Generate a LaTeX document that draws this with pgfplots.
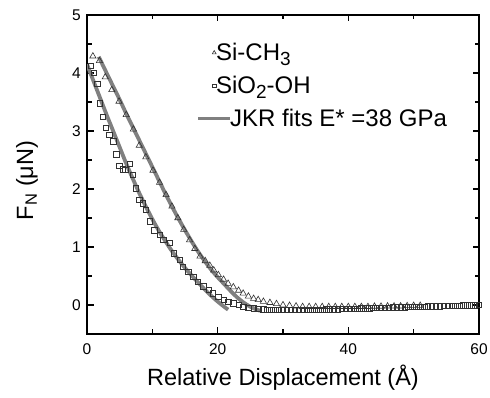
\documentclass[border=0pt]{standalone}
\usepackage{fontspec}
\setmainfont{Liberation Sans}
\usepackage{pgfplots}
\pgfplotsset{compat=1.18}
\definecolor{fitgray}{RGB}{128,128,128}
\definecolor{mk}{RGB}{50,50,50}
\newcommand\lsub[1]{\raisebox{-0.35ex}{\fontsize{19}{19}\selectfont #1}}
\newcommand\tlfont{\fontsize{15.5}{18}\selectfont}
\pgfplotsset{
 markleg/.style={legend image code/.code={\path (0pt,0pt) (32pt,0pt); \draw[##1, mark size=#1] plot coordinates {(16pt,0pt)};}},
 lineleg/.style={legend image code/.code={\draw[##1] (0pt,0pt) -- (32pt,0pt);}},
}
\begin{document}
\begin{tikzpicture}
\begin{axis}[name=ax, scale only axis, width=392pt, height=319pt,
 xmin=0, xmax=60, ymin=-0.5, ymax=5,
 xtick={0,20,40,60}, minor xtick={10,30,50},
 ytick={0,1,2,3,4,5}, minor ytick={-0.5,0.5,1.5,2.5,3.5,4.5},
 tick align=inside, major tick length=6.5pt, minor tick length=4.5pt,
 axis line style={line width=1.5pt},
 tick style={line width=1.2pt, black},
 /pgf/number format/assume math mode=true,
 xticklabel={\tlfont\pgfmathprintnumber{\tick}},
 yticklabel={\tlfont\pgfmathprintnumber{\tick}},
 xticklabel style={inner sep=0pt, anchor=north, yshift=-9pt},
 yticklabel style={inner sep=0pt, anchor=east, xshift=-6pt},
 xlabel={Relative Displacement (Å)},
 ylabel={F\textsubscript{N} (μN)},
 label style={font=\fontsize{23.5}{28}\selectfont},
 xlabel style={at={(axis description cs:0.5,0)}, anchor=center, yshift=-44pt},
 ylabel style={at={(axis description cs:0,0.5)}, anchor=center, yshift=60pt, xshift=-6pt},
 legend style={at={(axis cs:16.7,4.55)}, anchor=north west, draw=none, fill=none,
   font=\fontsize{24}{28}\selectfont, row sep=10pt, inner sep=0pt},
 legend cell align=left,
]
\addplot[only marks, mark=triangle, mark size=3.6pt, mark options={draw=mk, line width=0.6pt, fill=none}, markleg=2.2pt]
 coordinates {
(0.9,4.29) (1.9,4.21) (2.8,3.93) (3.8,3.71) (4.9,3.51) (6.0,3.28) (7.1,3.03) (8.0,2.75)
(9.0,2.55) (10.1,2.32) (11.1,2.11) (12.1,1.90) (13.0,1.70) (13.9,1.50) (14.8,1.30)
(15.7,1.12) (16.5,0.97) (17.3,0.84) (18.1,0.76) (18.8,0.68) (19.4,0.60) (20.1,0.52)
(20.9,0.44) (21.6,0.37) (22.4,0.31) (23.2,0.25) (23.9,0.20) (24.7,0.15) (25.5,0.11)
(26.2,0.09) (27.0,0.06) (28.0,0.04) (29.0,0.02) (30.0,0.0) (31.0,-0.01) (32.0,-0.02)
(33.0,-0.03) (34.0,-0.03) (35.0,-0.03) (36.0,-0.03) (37.0,-0.03) (38.0,-0.03) (39.0,-0.03)
(40.0,-0.03) (41.0,-0.03) (42.0,-0.03) (43.0,-0.03) (44.0,-0.025) (45.0,-0.025) (46.0,-0.02)
(47.0,-0.02) (48.0,-0.02) (49.0,-0.015) (50.0,-0.01) (51.0,-0.01)
};
\addlegendentry{\hspace*{-18pt}Si-CH\lsub{3}}
\addplot[only marks, mark=square, mark size=2.7pt, mark options={draw=mk, line width=0.6pt, fill=none}, markleg=1.8pt]
 coordinates {
(0.56,4.12) (1.07,4.00) (1.58,3.81) (1.99,3.48) (2.4,3.24) (2.9,3.06) (3.4,2.93) (4.0,2.82)
(4.5,2.60) (4.95,2.40) (5.46,2.34) (5.87,2.33) (6.58,2.43) (7.0,2.24) (7.5,2.01) (8.0,1.81)
(8.5,1.75) (9.0,1.64) (9.6,1.44) (10.3,1.29) (11.1,1.21) (11.7,1.12) (12.7,1.07) (13.3,0.89)
(14.2,0.78) (14.7,0.66) (15.5,0.57) (16.3,0.49) (17.0,0.40) (17.8,0.32) (18.6,0.26) (19.3,0.20)
(20.1,0.14) (20.9,0.09) (21.6,0.06) (22.4,0.03) (23.2,0.00) (23.9,-0.03) (24.7,-0.05)
(25.5,-0.06) (26.2,-0.07) (27.0,-0.075) (27.6,-0.08) (28.2,-0.08) (28.8,-0.085) (29.4,-0.085)
(30.0,-0.085) (30.6,-0.085) (31.2,-0.085) (31.8,-0.085) (32.4,-0.085) (33.0,-0.085) (33.6,-0.085)
(34.2,-0.084) (34.8,-0.082) (35.4,-0.080) (36.0,-0.078) (36.6,-0.077) (37.2,-0.075) (37.8,-0.073)
(38.4,-0.071) (39.0,-0.069) (39.6,-0.067) (40.2,-0.065) (40.8,-0.063) (41.4,-0.061) (42.0,-0.059)
(42.6,-0.057) (43.2,-0.055) (43.8,-0.053) (44.4,-0.051) (45.0,-0.049) (45.6,-0.047) (46.2,-0.045)
(46.8,-0.043) (47.4,-0.041) (48.0,-0.039) (48.6,-0.037) (49.2,-0.035) (49.8,-0.033) (50.4,-0.031)
(51.0,-0.029) (51.6,-0.027) (52.2,-0.025) (52.8,-0.023) (53.4,-0.021) (54.0,-0.020) (54.6,-0.018)
(55.2,-0.016) (55.8,-0.014) (56.4,-0.012) (57.0,-0.010) (57.6,-0.008) (58.2,-0.006) (58.8,-0.004)
(59.4,-0.002) (60.0,0.000)
};
\addlegendentry{\hspace*{-18pt}SiO\lsub{2}-OH}
\addplot[fitgray, line width=3.8pt, smooth, lineleg]
 coordinates {
(1.8,4.28) (3,4.00) (4,3.77) (5,3.54) (6,3.30) (7,3.07) (8,2.84) (9,2.61) (10,2.38) (11,2.15)
(12,1.92) (13,1.70) (14,1.49) (15,1.29) (16,1.10) (17,0.92) (18,0.76) (19,0.61) (20,0.48)
(21,0.36) (22,0.24) (23,0.13) (24,0.04) (25,-0.03) (26,-0.08) (26.5,-0.10)
};
\addlegendentry{\hspace*{-4pt}JKR fits E* =38 GPa}
\addplot[fitgray, line width=3.8pt, smooth, forget plot]
 coordinates {
(0.0,4.15) (1.0,3.86) (2.0,3.57) (3.0,3.28) (4.0,3.00) (5.0,2.72) (6.0,2.44) (7.0,2.18)
(8.0,1.93) (9.0,1.70) (10.0,1.48) (11.0,1.28) (12.0,1.10) (13.0,0.93) (14.0,0.78) (15.0,0.64)
(16.0,0.51) (17.0,0.39) (18.0,0.27) (19.0,0.16) (20.0,0.06) (21.0,-0.03) (21.6,-0.08)
};
\end{axis}
\path ([xshift=-87pt,yshift=-63pt]ax.south west) rectangle ([xshift=11pt,yshift=15pt]ax.north east);
\end{tikzpicture}
\end{document}
